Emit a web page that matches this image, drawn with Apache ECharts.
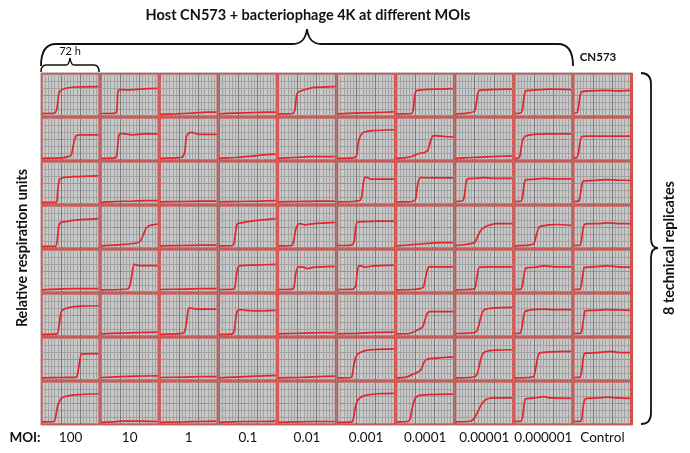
<!DOCTYPE html>
<html>
<head>
<meta charset="utf-8">
<script src="https://cdn.jsdelivr.net/npm/echarts@6/dist/echarts.min.js"></script>
<style>html,body{margin:0;padding:0;background:#fff}#c{width:690px;height:453px}</style>
</head>
<body>
<div id="c"></div>
<script>
// MOI categories (columns)
const moiLabels = ['100','10','1','0.1','0.01','0.001','0.0001','0.00001','0.000001','Control'];
// Each column: 8 technical replicates, each a list of [time (h), relative respiration units (0-100 of panel)]
const moi100 = [
  [[0,6],[16,7],[19,20],[21,52],[23,60],[30,66],[42,69],[71,70]],
  [[0,4],[25,5],[33,8],[37,12],[40,40],[43,58],[48,60],[71,60]],
  [[0,4],[18,4],[19,10],[20,35],[22,58],[25,62],[40,65],[71,67]],
  [[0,4],[17,4],[19,15],[21,50],[23,60],[30,63],[45,67],[71,70]],
  [[0,5],[20,7],[40,8],[71,8]],
  [[0,4],[19,5],[21,20],[24,55],[26,62],[35,68],[50,71],[71,72]],
  [[0,5],[25,6],[43,7],[45,15],[48,50],[50,62],[71,63]],
  [[0,5],[15,6],[17,15],[20,45],[24,60],[28,65],[45,70],[71,72]]
];
const moi10 = [
  [[0,6],[18,7],[20,15],[21,55],[23,63],[35,62],[50,64],[71,66]],
  [[0,4],[18,5],[20,15],[22,55],[24,63],[28,63],[38,60],[55,62],[71,62]],
  [[0,4],[20,6],[40,7],[55,8],[71,8]],
  [[0,5],[25,8],[45,12],[50,18],[54,35],[57,48],[62,54],[71,57]],
  [[0,5],[25,6],[34,8],[37,20],[40,55],[42,66],[47,63],[71,63]],
  [[0,5],[25,7],[45,8],[71,9]],
  [[0,6],[25,8],[45,9],[71,10]],
  [[0,4],[15,5],[25,7],[50,7],[71,6]]
];
const moi1 = [
  [[0,4],[20,5],[40,7],[60,9],[71,9]],
  [[0,4],[20,5],[28,7],[31,20],[33,55],[36,64],[40,66],[48,61],[71,61]],
  [[0,5],[30,6],[50,7],[71,7]],
  [[0,5],[30,6],[50,7],[71,7]],
  [[0,6],[30,7],[50,8],[71,8]],
  [[0,4],[20,5],[30,8],[33,30],[35,60],[37,67],[45,64],[71,64]],
  [[0,6],[30,7],[50,8],[71,8]],
  [[0,4],[30,5],[50,6],[71,7]]
];
const moi0_1 = [
  [[0,5],[20,7],[40,8],[60,9],[71,9]],
  [[0,4],[20,6],[40,9],[55,12],[71,14]],
  [[0,5],[25,6],[50,7],[71,8]],
  [[0,5],[17,6],[19,15],[21,45],[23,58],[28,60],[45,65],[71,70]],
  [[0,6],[18,7],[20,15],[22,45],[24,60],[28,63],[45,64],[71,66]],
  [[0,4],[17,5],[19,15],[21,45],[23,60],[28,63],[33,61],[45,60],[71,61]],
  [[0,5],[20,7],[45,9],[71,11]],
  [[0,4],[15,5],[30,6],[50,6],[71,7]]
];
const moi0_01 = [
  [[0,5],[18,6],[21,15],[23,50],[26,58],[32,62],[45,68],[71,70]],
  [[0,4],[20,6],[40,8],[71,8]],
  [[0,5],[25,6],[50,7],[71,7]],
  [[0,5],[17,6],[19,15],[22,45],[25,57],[28,58],[33,55],[45,58],[71,61]],
  [[0,6],[18,7],[20,15],[22,45],[25,60],[30,60],[36,56],[45,59],[71,61]],
  [[0,5],[15,6],[35,7],[55,8],[71,8]],
  [[0,5],[25,6],[50,8],[71,9]],
  [[0,4],[20,5],[45,6],[71,6]]
];
const moi0_001 = [
  [[0,5],[20,7],[45,8],[71,10]],
  [[0,4],[20,5],[24,10],[26,40],[29,58],[33,66],[45,70],[71,72]],
  [[0,5],[20,6],[29,9],[31,25],[33,55],[35,64],[38,63],[42,59],[71,59]],
  [[0,6],[18,7],[21,15],[23,50],[25,62],[35,63],[50,64],[71,64]],
  [[0,6],[20,7],[23,15],[25,50],[27,62],[30,62],[35,59],[45,62],[71,64]],
  [[0,5],[20,6],[40,8],[71,9]],
  [[0,5],[17,6],[19,15],[21,40],[24,58],[28,65],[38,71],[50,73],[71,74]],
  [[0,4],[18,5],[20,12],[22,35],[25,55],[28,62],[35,68],[50,72],[71,73]]
];
const moi0_0001 = [
  [[0,5],[19,6],[21,15],[23,50],[25,60],[35,63],[55,64],[71,65]],
  [[0,4],[10,5],[20,9],[27,15],[35,18],[39,22],[42,40],[45,56],[48,58],[60,56],[71,55]],
  [[0,5],[20,6],[24,12],[26,40],[28,58],[30,63],[50,62],[71,62]],
  [[0,5],[20,8],[40,11],[55,13],[71,13]],
  [[0,5],[20,6],[30,8],[34,12],[36,30],[39,55],[41,60],[50,60],[71,60]],
  [[0,5],[16,6],[22,10],[28,16],[33,22],[36,40],[39,55],[42,58],[55,58],[71,58]],
  [[0,5],[12,7],[20,13],[28,20],[31,25],[34,40],[37,48],[42,51],[55,53],[71,55]],
  [[0,5],[14,6],[17,12],[20,40],[23,60],[27,67],[40,70],[71,71]]
];
const moi0_00001 = [
  [[0,5],[15,7],[24,12],[26,30],[28,55],[30,61],[45,63],[71,64]],
  [[0,4],[20,6],[45,8],[71,10]],
  [[0,6],[9,8],[11,20],[13,50],[15,60],[25,61],[35,63],[45,61],[71,61]],
  [[0,6],[15,9],[24,13],[27,25],[31,40],[35,48],[42,54],[50,58],[71,58]],
  [[0,5],[15,6],[24,8],[26,25],[28,50],[30,59],[45,60],[71,60]],
  [[0,6],[15,7],[25,9],[28,18],[31,40],[34,58],[38,64],[50,67],[71,68]],
  [[0,5],[18,6],[25,9],[28,20],[31,45],[34,62],[38,68],[50,71],[71,72]],
  [[0,5],[15,6],[20,8],[24,15],[28,30],[32,45],[36,55],[40,60],[50,62],[71,62]]
];
const moi0_000001 = [
  [[0,6],[8,8],[10,20],[12,50],[14,60],[25,62],[45,64],[71,63]],
  [[0,4],[5,5],[7,15],[9,40],[11,52],[15,58],[25,61],[45,62],[71,62]],
  [[0,6],[8,7],[10,20],[12,50],[14,58],[25,59],[35,61],[50,60],[71,60]],
  [[0,5],[18,7],[24,10],[27,30],[30,48],[33,52],[45,55],[55,56],[71,54]],
  [[0,6],[8,7],[10,20],[12,45],[14,57],[25,59],[37,62],[50,60],[71,60]],
  [[0,6],[7,7],[9,20],[11,45],[13,58],[20,62],[35,64],[50,63],[71,63]],
  [[0,5],[18,6],[24,9],[26,25],[29,55],[31,64],[45,67],[71,68]],
  [[0,6],[8,7],[10,20],[12,50],[14,60],[25,62],[37,65],[45,62],[71,61]]
];
const control = [
  [[0,7],[4,8],[6,25],[8,50],[10,58],[20,60],[40,61],[55,60],[71,61]],
  [[0,5],[4,6],[6,20],[8,45],[10,56],[20,57],[45,57],[71,57]],
  [[0,6],[6,7],[8,20],[10,45],[12,55],[25,56],[40,58],[55,57],[71,56]],
  [[0,6],[8,7],[10,25],[12,50],[14,57],[30,58],[42,60],[55,58],[71,58]],
  [[0,6],[8,7],[10,25],[12,50],[13,58],[25,60],[42,62],[55,60],[71,59]],
  [[0,6],[9,7],[11,25],[13,52],[14,60],[25,61],[40,63],[55,62],[71,61]],
  [[0,6],[8,7],[10,25],[12,55],[14,64],[30,65],[46,68],[55,66],[71,65]],
  [[0,6],[9,7],[11,30],[13,55],[15,61],[30,62],[42,64],[55,62],[71,61]]
];
const columns = [moi100, moi10, moi1, moi0_1, moi0_01, moi0_001, moi0_0001, moi0_00001, moi0_000001, control];

// layout
const X0 = 41, Y0 = 73, CW = 59.1, RH = 44, NC = 10, NR = 8;
const FONT = 'Lato, "Open Sans", sans-serif';
const RED_BORDER = '#d4504c';

const grids = [], xAxes = [], yAxes = [], series = [];
columns.forEach((col, c) => {
  col.forEach((curve, r) => {
    const i = grids.length;
    grids.push({
      left: X0 + c * CW + 1, top: Y0 + r * RH + 1, width: CW - 2, height: RH - 2,
      show: true, backgroundColor: '#c9c9c9', borderColor: RED_BORDER, borderWidth: 1.4
    });
    xAxes.push({
      gridIndex: i, type: 'value', min: 0, max: 72, interval: 24,
      axisLine: {show: false}, axisTick: {show: false}, axisLabel: {show: false},
      splitLine: {show: true, showMinLine: false, showMaxLine: false, lineStyle: {color: '#7a7a7a', width: 1}},
      minorTick: {show: false, splitNumber: 6},
      minorSplitLine: {show: true, lineStyle: {color: '#a2a2a2', width: 1}}
    });
    yAxes.push({
      gridIndex: i, type: 'value', min: 0, max: 100, interval: 50,
      axisLine: {show: false}, axisTick: {show: false}, axisLabel: {show: false},
      splitLine: {show: true, showMinLine: false, showMaxLine: false, lineStyle: {color: '#939393', width: 1}},
      minorTick: {show: false, splitNumber: 3},
      minorSplitLine: {show: true, lineStyle: {color: '#a2a2a2', width: 1}}
    });
    series.push({
      type: 'line', xAxisIndex: i, yAxisIndex: i, data: curve,
      showSymbol: false, symbol: 'none', smooth: 0.2, silent: true,
      lineStyle: {color: '#e3262b', width: 1.7}
    });
  });
});

// brace drawing helpers (annotation decorations)
const braceStyle = (w) => ({fill: null, stroke: '#111', lineWidth: w});
function seg(x1, y1, x2, y2, w) { return {type: 'line', shape: {x1, y1, x2, y2}, style: braceStyle(w)}; }
function qc(x1, y1, cx, cy, x2, y2, w) { return {type: 'bezierCurve', shape: {x1, y1, cpx1: cx, cpy1: cy, x2, y2}, style: braceStyle(w)}; }

const graphics = [
  {type: 'rect', z: -10, shape: {x: X0 - 0.5, y: Y0 - 0.5, width: CW * NC + 1, height: RH * NR + 1}, style: {fill: '#8e8e8e'}},
  {type: 'rect', z: 10, shape: {x: X0 + CW * NC - 2, y: Y0, width: 3, height: RH * NR}, style: {fill: RED_BORDER}},
  {type: 'text', x: 308, y: 15, style: {text: 'Host CN573 + bacteriophage 4K at different MOIs', align: 'center', verticalAlign: 'middle', font: 'bold 14.5px ' + FONT, fill: '#111'}},
  // top brace
  qc(41, 66, 41, 44, 56, 44, 1.8), seg(56, 44, 293, 44, 1.8), qc(293, 44, 305, 44, 307, 29, 1.8),
  qc(307, 29, 309, 44, 321, 44, 1.8), seg(321, 44, 558, 44, 1.8), qc(558, 44, 573, 44, 573, 66, 1.8),
  // 72 h brace
  qc(41, 72, 41, 65, 46, 65, 1.5), seg(46, 65, 66, 65, 1.5), qc(66, 65, 69, 65, 70, 58, 1.5),
  qc(70, 58, 71, 65, 74, 65, 1.5), seg(74, 65, 94, 65, 1.5), qc(94, 65, 99, 65, 99, 72, 1.5),
  // right brace
  qc(641, 73, 651, 73, 651, 84, 1.8), seg(651, 84, 651, 238, 1.8), qc(651, 238, 651, 248, 658, 248, 1.8),
  qc(658, 248, 651, 248, 651, 258, 1.8), seg(651, 258, 651, 413, 1.8), qc(651, 413, 651, 424, 641, 424, 1.8),
  {type: 'text', x: 70, y: 51, style: {text: '72 h', align: 'center', verticalAlign: 'middle', font: '11px ' + FONT, fill: '#111'}},
  {type: 'text', x: 598, y: 57, style: {text: 'CN573', align: 'center', verticalAlign: 'middle', font: 'bold 11.5px ' + FONT, fill: '#111'}},
  {type: 'text', x: 22, y: 248, rotation: Math.PI / 2, style: {text: 'Relative respiration units', align: 'center', verticalAlign: 'middle', font: 'bold 14.3px ' + FONT, fill: '#111'}},
  {type: 'text', x: 669, y: 248, rotation: Math.PI / 2, style: {text: '8 technical replicates', align: 'center', verticalAlign: 'middle', font: 'bold 14.3px ' + FONT, fill: '#111'}},
  {type: 'text', x: 25, y: 438, style: {text: 'MOI:', align: 'center', verticalAlign: 'middle', font: 'bold 13.5px ' + FONT, fill: '#111'}}
];
moiLabels.forEach((lab, c) => {
  graphics.push({type: 'text', x: X0 + CW * (c + 0.5), y: 438, style: {text: lab, align: 'center', verticalAlign: 'middle', font: '13.5px ' + FONT, fill: '#111'}});
});

const chart = echarts.init(document.getElementById('c'), null, {renderer: 'canvas'});
chart.setOption({
  animation: false,
  backgroundColor: '#ffffff',
  grid: grids, xAxis: xAxes, yAxis: yAxes, series: series,
  graphic: graphics
});
</script>
</body>
</html>
